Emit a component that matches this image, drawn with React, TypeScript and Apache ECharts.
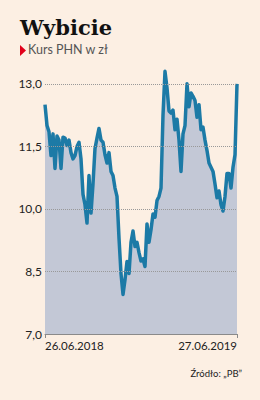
import React, { useEffect, useRef } from "react";
import * as echarts from "echarts";

const titleText = "Wybicie";
const subtitleText = "Kurs PHN w zł";
const sourceText = "Źródło: „PB”";
const dateLabels = ["26.06.2018", "27.06.2019"];
const yTicks = [7.0, 8.5, 10.0, 11.5, 13.0];
const prices = [
  12.5, 12.0, 11.85, 11.28, 11.8, 10.97, 11.75, 11.65, 10.97, 11.72,
  11.7, 11.52, 11.65, 11.35, 11.2, 11.28, 11.5, 11.6, 11.2, 10.35,
  10.1, 9.66, 10.8, 9.9, 10.6, 11.45, 11.7, 11.93, 11.65, 11.6,
  11.3, 11.1, 11.35, 10.9, 10.8, 10.5, 10.3, 9.3, 8.45, 7.95,
  8.3, 8.74, 8.45, 9.2, 9.47, 9.1, 9.2, 8.95, 8.75, 8.8,
  8.62, 9.64, 9.2, 9.5, 9.88, 9.8, 10.2, 10.3, 10.5, 12.25,
  13.3, 12.9, 12.35, 12.3, 12.37, 11.9, 12.15, 11.65, 10.9, 11.8,
  12.0, 13.0, 12.45, 12.78, 12.7, 12.6, 12.2, 12.5, 11.9, 11.96,
  11.65, 11.4, 11.1, 11.0, 10.9, 10.6, 10.27, 10.43, 10.1, 9.95,
  10.3, 10.85, 10.85, 10.5, 11.0, 11.3, 13.0,
];

const fmt = (v: number) => v.toFixed(1).replace(".", ",");

export default function App() {
  const ref = useRef<HTMLDivElement>(null);
  useEffect(() => {
    document.body.style.margin = "0";
    const chart = echarts.init(ref.current!, undefined, { renderer: "svg" });
    const last = prices.length - 1;
    const cats = prices.map((_, i) => ({
      value: String(i),
      textStyle: i === 0 ? { align: "left" } : i === last ? { align: "right" } : {},
    }));
    const font = "Lato, 'Noto Sans', sans-serif";
    chart.setOption({
      animation: false,
      backgroundColor: "#fcefe3",
      grid: { left: 45, right: 23, top: 63, bottom: 66 },
      xAxis: {
        type: "category",
        boundaryGap: false,
        data: cats,
        axisLine: { show: true, lineStyle: { color: "#8a8a8a", width: 1 } },
        axisTick: {
          show: true,
          length: 4,
          interval: (i: number) => i === 0 || i === last,
          lineStyle: { color: "#8a8a8a" },
        },
        axisLabel: {
          interval: (i: number) => i === 0 || i === last,
          formatter: (_v: string, i: number) => (i === 0 ? dateLabels[0] : i === last ? dateLabels[1] : ""),
          color: "#222",
          fontFamily: font,
          fontSize: 11.5,
          margin: 5,
        },
        splitLine: { show: false },
      },
      yAxis: {
        type: "value",
        min: 7,
        max: 13.5,
        interval: 1.5,
        axisLine: { show: false },
        axisTick: { show: false },
        splitLine: { show: false },
        axisLabel: {
          formatter: (v: number) => (yTicks.some((t) => Math.abs(t - v) < 1e-6) ? fmt(v) : ""),
          color: "#222",
          fontFamily: font,
          fontSize: 12,
          margin: 3,
          padding: [0, 0, 4, 0],
        },
      },
      series: [
        {
          type: "line",
          data: prices.map((v, i) =>
            i === last
              ? {
                  value: v,
                  label: {
                    show: true,
                    position: "top",
                    offset: [-10, -1],
                    formatter: () => fmt(v),
                    fontFamily: font,
                    fontWeight: "bold",
                    fontSize: 15,
                    color: "#111",
                  },
                }
              : v
          ),
          symbol: "none",
          lineStyle: { color: "#1c7aa6", width: 3.5, join: "round" },
          areaStyle: { color: "#c3c8d6", opacity: 1, origin: "start" },
          markLine: {
            silent: true,
            symbol: "none",
            label: { show: false },
            lineStyle: { color: "#999", type: "dotted", width: 1 },
            data: yTicks.filter((t) => t > 7).map((t) => ({ yAxis: t })),
            z: 10,
          },
        },
      ],
      graphic: [
        {
          type: "text",
          left: 20,
          top: 17,
          style: {
            text: titleText,
            font: "bold 21px 'DejaVu Serif', 'Liberation Serif', serif",
            fill: "#111",
          },
        },
        {
          type: "polygon",
          shape: { points: [[20, 45], [26, 50.5], [20, 56]] },
          style: { fill: "#e2001a" },
        },
        {
          type: "text",
          left: 28,
          top: 43,
          style: { text: subtitleText, font: "12.5px Lato, sans-serif", fill: "#555" },
        },
        {
          type: "text",
          right: 18,
          top: 368,
          style: { text: sourceText, font: "9.5px Lato, sans-serif", fill: "#222" },
        },
      ],
    });
    return () => chart.dispose();
  }, []);
  return <div ref={ref} style={{ position: "fixed", left: 0, top: 0, width: 260, height: 400 }} />;
}
